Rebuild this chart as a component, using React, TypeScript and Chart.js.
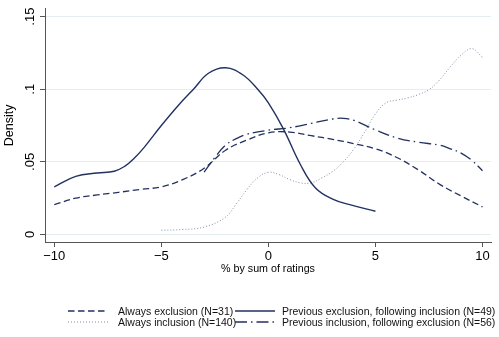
import React, { useEffect, useRef } from 'react';
import { Chart, registerables } from 'chart.js';

Chart.register(...registerables);

const FONT = "'Liberation Sans', Arial, Helvetica, sans-serif";
const NAVY = '#223160';
const DOT_COLOR = 'rgba(34,49,96,0.55)';

const xTicks = [-10, -5, 0, 5, 10];
const xTickLabels = ['\u221210', '\u22125', '0', '5', '10'];
const yTicks = [0, 0.05, 0.1, 0.15];
const yTickLabels = ['0', '.05', '.1', '.15'];

const xTitle = '% by sum of ratings';
const yTitle = 'Density';

const seriesNames = [
  'Always exclusion (N=31)',
  'Previous exclusion, following inclusion (N=49)',
  'Always inclusion (N=140)',
  'Previous inclusion, following exclusion (N=56)',
];

// Always exclusion (dashed)
const alwaysExclX = [-10, -9, -8, -7, -6, -5, -4, -3, -2, -1, 0, 1, 2, 3, 4, 5, 6, 7, 8, 9, 10];
const alwaysExclY = [0.0205, 0.025, 0.0272, 0.029, 0.031, 0.0328, 0.0378, 0.0456, 0.058, 0.065, 0.0700, 0.0705, 0.068, 0.0655, 0.0625, 0.059, 0.053, 0.0445, 0.0345, 0.0265, 0.019];

// Previous exclusion, following inclusion (solid)
const prevExclX = [-10, -9, -8, -7.2, -6.7, -6.3, -5.8, -5, -4.2, -3.5, -2.8, -2, -1.2, -0.5, 0, 0.7, 1.5, 2.2, 3, 3.8, 5];
const prevExclY = [0.0328, 0.040, 0.0423, 0.0435, 0.047, 0.052, 0.060, 0.075, 0.089, 0.100, 0.111, 0.1148, 0.110, 0.100, 0.0906, 0.0727, 0.048, 0.032, 0.0243, 0.0205, 0.016];

// Always inclusion (dotted)
const alwaysInclX = [-5, -4, -3, -2, -1.5, -1, -0.5, 0, 0.5, 1, 1.5, 2, 2.5, 3, 3.5, 4, 4.5, 5, 5.5, 6, 6.5, 7, 7.5, 8, 8.5, 9, 9.5, 10];
const alwaysInclY = [0.0029, 0.0034, 0.0051, 0.0119, 0.021, 0.031, 0.039, 0.0428, 0.0412, 0.0378, 0.0355, 0.0355, 0.039, 0.0434, 0.050, 0.059, 0.0705, 0.083, 0.0907, 0.0925, 0.094, 0.0963, 0.0997, 0.1065, 0.1155, 0.1234, 0.128, 0.122];

// Previous inclusion, following exclusion (dash-dot)
const prevInclX = [-3, -2.5, -2, -1.5, -1, 0, 1, 2, 3, 3.5, 4, 5, 6, 7, 8, 8.5, 9, 9.5, 10];
const prevInclY = [0.043, 0.053, 0.0615, 0.066, 0.069, 0.0718, 0.0735, 0.0765, 0.0795, 0.080, 0.0785, 0.072, 0.0665, 0.0635, 0.0615, 0.059, 0.056, 0.051, 0.0439];

const toPoints = (xs: number[], ys: number[]) => xs.map((x, i) => ({ x, y: ys[i] }));

const styles = [
  { color: NAVY, width: 1.3, dash: [6.5, 3.5] },
  { color: NAVY, width: 1.4, dash: [] as number[] },
  { color: DOT_COLOR, width: 1, dash: [1, 2] },
  { color: NAVY, width: 1.3, dash: [12, 4, 1.5, 4] },
];

function LegendKey({ idx }: { idx: number }) {
  const s = styles[idx];
  return (
    <svg width={40} height={4} style={{ display: 'block' }}>
      <line
        x1={0}
        y1={2}
        x2={40}
        y2={2}
        stroke={s.color}
        strokeWidth={s.width}
        strokeDasharray={s.dash.length ? s.dash.join(' ') : undefined}
      />
    </svg>
  );
}

export default function App() {
  const ref = useRef<HTMLCanvasElement | null>(null);

  useEffect(() => {
    if (!ref.current) return;
    Chart.defaults.font.family = FONT;
    const data = [
      toPoints(alwaysExclX, alwaysExclY),
      toPoints(prevExclX, prevExclY),
      toPoints(alwaysInclX, alwaysInclY),
      toPoints(prevInclX, prevInclY),
    ];
    const chart = new Chart(ref.current, {
      type: 'scatter',
      data: {
        datasets: data.map((d, i) => ({
          label: seriesNames[i],
          data: d,
          showLine: true,
          pointRadius: 0,
          borderColor: styles[i].color,
          borderWidth: styles[i].width,
          borderDash: styles[i].dash,
          tension: 0.4,
          fill: false,
        })),
      },
      options: {
        animation: false,
        responsive: false,
        devicePixelRatio: 1,
        layout: { padding: { left: 0, top: 4, right: 8, bottom: 59 } },
        plugins: { legend: { display: false }, tooltip: { enabled: false } },
        scales: {
          x: {
            type: 'linear',
            min: -10.434,
            max: 10.397,
            afterBuildTicks: (s: any) => {
              s.ticks = xTicks.map((v) => ({ value: v }));
            },
            afterFit: (s: any) => {
              s.height = 36;
            },
            ticks: {
              font: { size: 13, family: FONT },
              color: '#000',
              padding: 2,
              maxRotation: 0,
              autoSkip: false,
              callback: (v: any) => xTickLabels[xTicks.indexOf(Number(v))] ?? '',
            },
            grid: {
              drawOnChartArea: false,
              tickLength: 5,
              tickColor: '#555',
              tickWidth: 1,
            },
            border: { color: '#555', width: 1 },
            title: {
              display: true,
              text: xTitle,
              color: '#000',
              font: { size: 10.7, family: FONT },
              padding: { top: 0, bottom: 3 },
            },
          },
          y: {
            type: 'linear',
            min: -0.0052,
            max: 0.1554,
            afterBuildTicks: (s: any) => {
              s.ticks = yTicks.map((v) => ({ value: v }));
            },
            afterFit: (s: any) => {
              s.width = 45;
            },
            ticks: {
              font: { size: 13, family: FONT },
              color: '#000',
              minRotation: 90,
              maxRotation: 90,
              crossAlign: 'center',
              padding: 1,
              autoSkip: false,
              callback: (v: any) => {
                const i = yTicks.findIndex((t) => Math.abs(t - Number(v)) < 1e-9);
                return i >= 0 ? yTickLabels[i] : '';
              },
            },
            grid: {
              color: '#e4edf0',
              lineWidth: 1,
              tickLength: 5,
              tickColor: '#555',
              tickWidth: 1,
            },
            border: { color: '#555', width: 1 },
            title: {
              display: true,
              text: yTitle,
              color: '#000',
              font: { size: 12.5, family: FONT },
              padding: { top: 2.5, bottom: 0 },
            },
          },
        },
      } as any,
    });
    return () => chart.destroy();
  }, []);

  const rows = [
    [0, 1],
    [2, 3],
  ];
  const rowCenters = [311, 321.5];
  const keyLeft = [68, 235];
  const textLeft = [118, 282];

  return (
    <div style={{ position: 'fixed', left: 0, top: 0, width: 499, height: 337, background: '#fff', overflow: 'hidden' }}>
      <canvas ref={ref} width={499} height={337} style={{ position: 'absolute', left: 0, top: 0 }} />
      {rows.map((row, r) =>
        row.map((idx, c) => (
          <React.Fragment key={`${r}-${c}`}>
            <div style={{ position: 'absolute', left: keyLeft[c], top: rowCenters[r] - 2 }}>
              <LegendKey idx={idx} />
            </div>
            <div
              style={{
                position: 'absolute',
                left: textLeft[c],
                top: rowCenters[r] - 6,
                height: 12,
                lineHeight: '12px',
                fontSize: 10.5,
                fontFamily: FONT,
                color: '#111',
                whiteSpace: 'nowrap',
              }}
            >
              {seriesNames[idx]}
            </div>
          </React.Fragment>
        ))
      )}
    </div>
  );
}
